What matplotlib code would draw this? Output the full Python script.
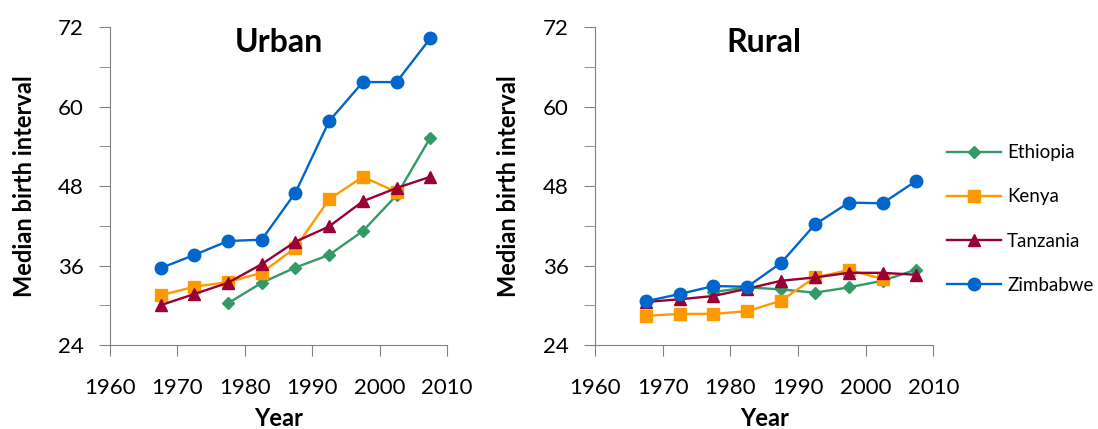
import matplotlib
matplotlib.use("Agg")
import matplotlib.pyplot as plt
from matplotlib.ticker import MultipleLocator

plt.rcParams['font.family'] = ['Lato', 'DejaVu Sans']

years = [1967.5, 1972.5, 1977.5, 1982.5, 1987.5, 1992.5, 1997.5, 2002.5, 2007.5]
countries = ["Ethiopia", "Kenya", "Tanzania", "Zimbabwe"]

# urban medians (months); None = no survey
urban_ethiopia = [None, None, 30.3, 33.4, 35.7, 37.6, 41.2, 46.6, 55.3]
urban_kenya = [31.5, 32.8, 33.5, 34.9, 38.7, 46.0, 49.4, 47.1, None]
urban_tanzania = [30.0, 31.7, 33.4, 36.2, 39.6, 41.9, 45.7, 47.7, 49.4]
urban_zimbabwe = [35.6, 37.6, 39.7, 39.9, 47.0, 57.8, 63.7, 63.7, 70.3]

rural_ethiopia = [None, None, 32.0, 32.7, 32.4, 31.9, 32.7, 33.7, 35.4]
rural_kenya = [28.4, 28.7, 28.7, 29.1, 30.7, 34.2, 35.3, 34.0, None]
rural_tanzania = [30.5, 30.9, 31.4, 32.5, 33.7, 34.2, 34.9, 34.9, 34.6]
rural_zimbabwe = [30.6, 31.7, 32.9, 32.8, 36.4, 42.2, 45.5, 45.4, 48.8]

colors = ["#339966", "#ff9900", "#990033", "#0066cc"]
markers = ["D", "s", "^", "o"]
msizes = [6.5, 8, 8.5, 9]


def clean(vals):
    pairs = [(x, v) for x, v in zip(years, vals) if v is not None]
    return [p[0] for p in pairs], [p[1] for p in pairs]


fig = plt.figure(figsize=(10.98, 4.29), dpi=100)
ax1 = fig.add_axes([0.1002, 0.1958, 0.307, 0.741])
ax2 = fig.add_axes([0.542, 0.1958, 0.308, 0.741])

panels = [
    (ax1, "Urban", [urban_ethiopia, urban_kenya, urban_tanzania, urban_zimbabwe]),
    (ax2, "Rural", [rural_ethiopia, rural_kenya, rural_tanzania, rural_zimbabwe]),
]

for ax, title, series in panels:
    for name, vals, c, m, ms in zip(countries, series, colors, markers, msizes):
        xs, ys = clean(vals)
        ax.plot(xs, ys, color=c, marker=m, markersize=ms, linewidth=1.7,
                label=name, clip_on=False)
    ax.set_xlim(1960, 2010)
    ax.set_ylim(24, 72)
    ax.xaxis.set_major_locator(MultipleLocator(10))
    ax.yaxis.set_major_locator(MultipleLocator(12))
    ax.yaxis.set_minor_locator(MultipleLocator(6))
    for s in ["top", "right"]:
        ax.spines[s].set_visible(False)
    for s in ["left", "bottom"]:
        ax.spines[s].set_color("#808080")
    ax.tick_params(which="both", direction="out", color="#808080", labelsize=16,
                   length=8)
    ax.tick_params(axis="y", pad=11)
    ax.tick_params(axis="x", pad=16)
    ax.set_xlabel("Year", fontsize=17, fontweight="bold")
    ax.xaxis.set_label_coords(0.5, -0.255)
    ax.xaxis.label.set_va("baseline")
    ax.set_ylabel("Median birth interval", fontsize=17, fontweight="bold")
    ax.yaxis.set_label_coords(-0.255, 0.5)
    ax.yaxis.label.set_va("center")
    ax.text(0.5, 0.952, title, transform=ax.transAxes, ha="center", va="center",
            fontsize=23, fontweight="bold")

handles, labels = ax2.get_legend_handles_labels()
fig.legend(handles, labels, loc="center left", bbox_to_anchor=(0.8625, 0.4895),
           frameon=False, fontsize=13.5, labelspacing=1.45, handlelength=2.9,
           handletextpad=0.3, borderpad=0, borderaxespad=0)

fig.savefig("out.png", dpi=100)
